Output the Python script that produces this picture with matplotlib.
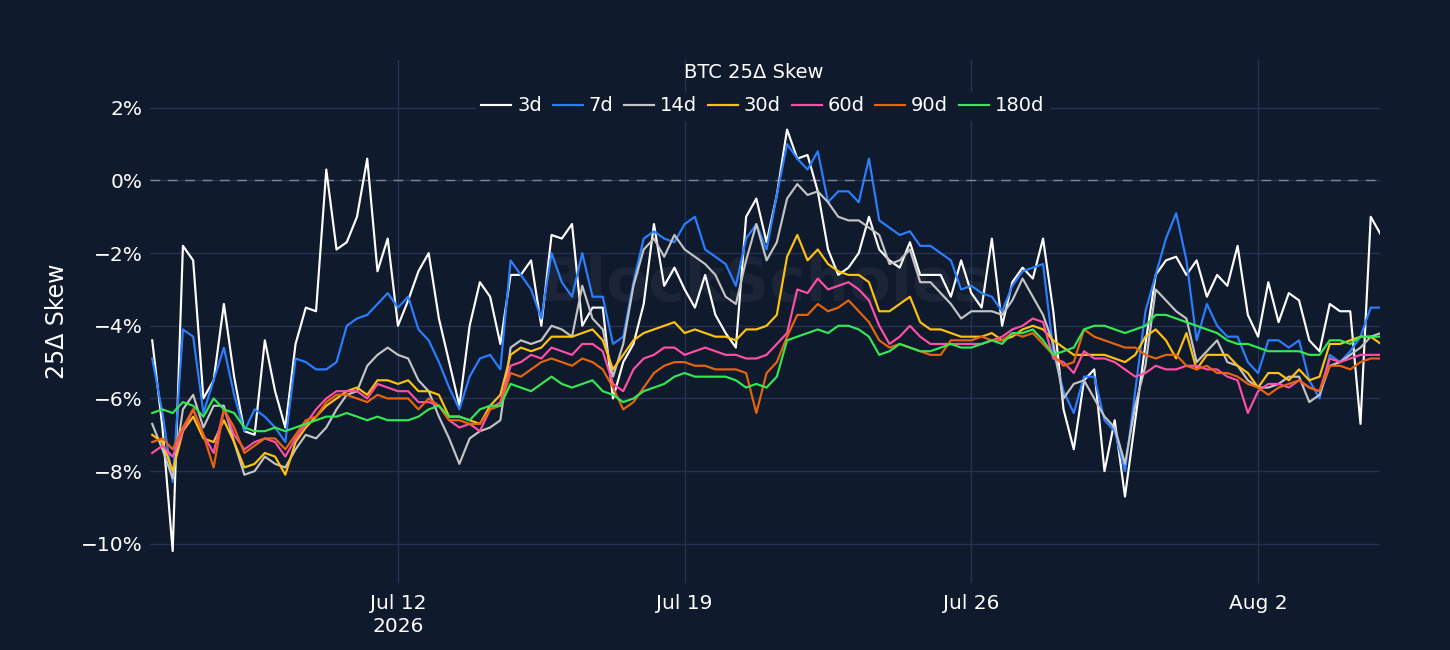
import matplotlib
matplotlib.use('Agg')
import matplotlib.pyplot as plt
import matplotlib.dates as mdates
import pandas as pd

# 6-hourly samples, Jul 6 2026 00:00 -> Aug 5 2026 00:00
timestamps = pd.date_range('2026-07-06 00:00', periods=121, freq='6h')

skew_3d = [-4.4, -6.8, -10.2, -1.8, -2.2, -6.0, -5.5, -3.4, -5.4, -6.9,
           -7.0, -4.4, -5.8, -6.8, -4.5, -3.5, -3.6, 0.3, -1.9, -1.7,
           -1.0, 0.6, -2.5, -1.6, -4.0, -3.3, -2.5, -2.0, -3.8, -5.0,
           -6.2, -4.0, -2.8, -3.2, -4.5, -2.6, -2.6, -2.2, -4.0, -1.5,
           -1.6, -1.2, -4.0, -3.5, -3.5, -6.0, -5.0, -4.5, -3.4, -1.2,
           -2.9, -2.4, -3.0, -3.5, -2.6, -3.7, -4.2, -4.6, -1.0, -0.5,
           -1.7, -0.4, 1.4, 0.6, 0.7, -0.3, -1.9, -2.6, -2.4, -2.0,
           -1.0, -1.9, -2.2, -2.4, -1.7, -2.6, -2.6, -2.6, -3.2, -2.2,
           -3.1, -3.5, -1.6, -4.0, -2.8, -2.4, -2.7, -1.6, -3.6, -6.3,
           -7.4, -5.5, -5.2, -8.0, -6.6, -8.7, -6.6, -4.5, -2.6, -2.2,
           -2.1, -2.6, -2.2, -3.2, -2.6, -2.9, -1.8, -3.7, -4.3, -2.8,
           -3.9, -3.1, -3.3, -4.4, -4.7, -3.4, -3.6, -3.6, -6.7, -1.0, -1.5]

skew_7d = [-4.9, -6.4, -8.3, -4.1, -4.3, -6.4, -5.5, -4.6, -5.9, -6.9,
           -6.3, -6.5, -6.8, -7.2, -4.9, -5.0, -5.2, -5.2, -5.0, -4.0,
           -3.8, -3.7, -3.4, -3.1, -3.5, -3.2, -4.1, -4.4, -5.0, -5.7,
           -6.3, -5.4, -4.9, -4.8, -5.2, -2.2, -2.6, -3.0, -3.8, -2.0,
           -2.8, -3.2, -2.0, -3.2, -3.2, -4.5, -4.3, -2.8, -1.6, -1.4,
           -1.6, -1.7, -1.2, -1.0, -1.9, -2.1, -2.3, -2.9, -1.6, -1.2,
           -1.9, -0.4, 1.0, 0.6, 0.3, 0.8, -0.6, -0.3, -0.3, -0.6,
           0.6, -1.1, -1.3, -1.5, -1.4, -1.8, -1.8, -2.0, -2.2, -3.0,
           -2.9, -3.1, -3.2, -3.6, -2.9, -2.5, -2.4, -2.3, -4.7, -5.8,
           -6.4, -5.4, -5.4, -6.6, -6.9, -8.0, -5.8, -3.6, -2.6, -1.6,
           -0.9, -2.2, -4.4, -3.4, -4.0, -4.3, -4.3, -5.0, -5.3, -4.4,
           -4.4, -4.6, -4.4, -5.5, -6.0, -4.8, -5.0, -4.7, -4.3, -3.5, -3.5]

skew_14d = [-6.7, -7.4, -8.2, -6.3, -5.9, -6.8, -6.2, -6.2, -7.2, -8.1,
            -8.0, -7.6, -7.8, -7.9, -7.4, -7.0, -7.1, -6.8, -6.3, -5.9,
            -5.8, -5.1, -4.8, -4.6, -4.8, -4.9, -5.5, -5.8, -6.5, -7.1,
            -7.8, -7.1, -6.9, -6.8, -6.6, -4.6, -4.4, -4.5, -4.4, -4.0,
            -4.1, -4.3, -2.9, -3.8, -4.1, -5.4, -4.5, -2.9, -1.9, -1.6,
            -2.1, -1.5, -1.9, -2.1, -2.3, -2.6, -3.2, -3.4, -2.2, -1.2,
            -2.2, -1.7, -0.5, -0.1, -0.4, -0.3, -0.6, -1.0, -1.1, -1.1,
            -1.3, -1.5, -2.3, -2.2, -1.9, -2.8, -2.8, -3.1, -3.4, -3.8,
            -3.6, -3.6, -3.6, -3.7, -3.3, -2.7, -3.2, -3.7, -4.5, -6.0,
            -5.6, -5.5, -6.0, -6.5, -6.8, -7.8, -6.2, -5.1, -3.0, -3.3,
            -3.6, -3.8, -5.0, -4.7, -4.4, -5.0, -5.1, -5.5, -5.7, -5.7,
            -5.6, -5.4, -5.4, -6.1, -5.9, -5.1, -5.0, -4.8, -4.6, -4.3, -4.2]

skew_30d = [-7.0, -7.2, -8.0, -6.9, -6.5, -7.1, -7.2, -6.6, -7.2, -7.9,
            -7.8, -7.5, -7.6, -8.1, -7.2, -6.8, -6.5, -6.2, -6.0, -5.8,
            -5.7, -5.9, -5.5, -5.5, -5.6, -5.5, -5.8, -5.8, -5.9, -6.5,
            -6.5, -6.6, -6.7, -6.2, -5.9, -4.8, -4.6, -4.7, -4.6, -4.3,
            -4.3, -4.3, -4.2, -4.1, -4.4, -5.2, -4.8, -4.4, -4.2, -4.1,
            -4.0, -3.9, -4.2, -4.1, -4.2, -4.3, -4.3, -4.4, -4.1, -4.1,
            -4.0, -3.7, -2.1, -1.5, -2.2, -1.9, -2.3, -2.5, -2.6, -2.6,
            -2.8, -3.6, -3.6, -3.4, -3.2, -3.9, -4.1, -4.1, -4.2, -4.3,
            -4.3, -4.3, -4.2, -4.4, -4.3, -4.1, -4.0, -4.1, -4.4, -4.6,
            -4.8, -4.8, -4.8, -4.8, -4.9, -5.0, -4.8, -4.3, -4.1, -4.4,
            -4.9, -4.2, -5.2, -4.8, -4.8, -4.8, -5.1, -5.3, -5.7, -5.3,
            -5.3, -5.5, -5.2, -5.5, -5.4, -4.5, -4.5, -4.4, -4.3, -4.3, -4.5]

skew_60d = [-7.5, -7.3, -7.6, -6.9, -6.3, -7.0, -7.5, -6.3, -7.0, -7.4,
            -7.2, -7.1, -7.2, -7.6, -7.1, -6.7, -6.3, -6.0, -5.8, -5.8,
            -5.8, -6.0, -5.6, -5.7, -5.8, -5.8, -6.1, -6.1, -6.2, -6.6,
            -6.8, -6.7, -6.9, -6.3, -6.1, -5.1, -5.0, -4.8, -4.9, -4.6,
            -4.7, -4.8, -4.5, -4.5, -4.7, -5.6, -5.8, -5.2, -4.9, -4.8,
            -4.6, -4.6, -4.8, -4.7, -4.6, -4.7, -4.8, -4.8, -4.9, -4.9,
            -4.8, -4.5, -4.2, -3.0, -3.1, -2.7, -3.0, -2.9, -2.8, -3.0,
            -3.3, -4.0, -4.5, -4.3, -4.0, -4.3, -4.5, -4.5, -4.5, -4.5,
            -4.5, -4.5, -4.4, -4.3, -4.1, -4.0, -3.8, -3.9, -4.9, -5.0,
            -5.3, -4.7, -4.9, -4.9, -5.0, -5.2, -5.4, -5.3, -5.1, -5.2,
            -5.2, -5.1, -5.1, -5.2, -5.2, -5.4, -5.5, -6.4, -5.8, -5.6,
            -5.6, -5.7, -5.5, -5.7, -5.8, -4.9, -5.0, -4.9, -4.8, -4.8, -4.8]

skew_90d = [-7.2, -7.1, -7.4, -6.8, -6.3, -7.0, -7.9, -6.3, -6.8, -7.5,
            -7.3, -7.1, -7.1, -7.4, -7.0, -6.6, -6.5, -6.1, -5.9, -5.9,
            -6.0, -6.1, -5.9, -6.0, -6.0, -6.0, -6.3, -6.0, -6.2, -6.6,
            -6.6, -6.7, -6.7, -6.3, -6.2, -5.3, -5.4, -5.2, -5.0, -4.9,
            -5.0, -5.1, -4.9, -5.0, -5.2, -5.7, -6.3, -6.1, -5.7, -5.3,
            -5.1, -5.0, -5.0, -5.1, -5.1, -5.2, -5.2, -5.2, -5.3, -6.4,
            -5.3, -5.0, -4.3, -3.7, -3.7, -3.4, -3.6, -3.5, -3.3, -3.6,
            -3.9, -4.4, -4.6, -4.5, -4.6, -4.7, -4.8, -4.8, -4.4, -4.4,
            -4.4, -4.3, -4.4, -4.4, -4.2, -4.3, -4.2, -4.5, -4.8, -5.1,
            -5.0, -4.1, -4.3, -4.4, -4.5, -4.6, -4.6, -4.8, -4.9, -4.8,
            -4.8, -5.1, -5.2, -5.1, -5.3, -5.3, -5.4, -5.6, -5.7, -5.9,
            -5.7, -5.6, -5.5, -5.7, -5.8, -5.1, -5.1, -5.2, -5.0, -4.9, -4.9]

skew_180d = [-6.4, -6.3, -6.4, -6.1, -6.2, -6.5, -6.0, -6.3, -6.4, -6.8,
             -6.9, -6.9, -6.8, -6.9, -6.8, -6.7, -6.6, -6.5, -6.5, -6.4,
             -6.5, -6.6, -6.5, -6.6, -6.6, -6.6, -6.5, -6.3, -6.2, -6.5,
             -6.5, -6.6, -6.3, -6.2, -6.2, -5.6, -5.7, -5.8, -5.6, -5.4,
             -5.6, -5.7, -5.6, -5.5, -5.8, -5.9, -6.1, -6.0, -5.8, -5.7,
             -5.6, -5.4, -5.3, -5.4, -5.4, -5.4, -5.4, -5.5, -5.7, -5.6,
             -5.7, -5.4, -4.4, -4.3, -4.2, -4.1, -4.2, -4.0, -4.0, -4.1,
             -4.3, -4.8, -4.7, -4.5, -4.6, -4.7, -4.7, -4.6, -4.5, -4.6,
             -4.6, -4.5, -4.4, -4.5, -4.2, -4.2, -4.1, -4.4, -4.8, -4.7,
             -4.6, -4.1, -4.0, -4.0, -4.1, -4.2, -4.1, -4.0, -3.7, -3.7,
             -3.8, -3.9, -4.0, -4.1, -4.2, -4.4, -4.5, -4.5, -4.6, -4.7,
             -4.7, -4.7, -4.7, -4.8, -4.8, -4.4, -4.4, -4.5, -4.3, -4.3, -4.3]

tenors = ['3d', '7d', '14d', '30d', '60d', '90d', '180d']
series = [skew_3d, skew_7d, skew_14d, skew_30d, skew_60d, skew_90d, skew_180d]
colors = ['#ffffff', '#2a7fff', '#c4c4c4', '#ffc20e', '#ff4fa8', '#e8650c', '#34e854']

y_ticks = [2, 0, -2, -4, -6, -8, -10]
x_ticks = ['2026-07-12', '2026-07-19', '2026-07-26', '2026-08-02']
x_tick_labels = ['Jul 12\n2026', 'Jul 19', 'Jul 26', 'Aug 2']

bg = '#101a2d'
grid_col = '#243352'
plt.rcParams['font.family'] = ['DejaVu Sans']

fig = plt.figure(figsize=(14.5, 6.5), dpi=100, facecolor=bg)
ax = fig.add_axes([0.1034, 0.103, 0.8483, 0.805], facecolor=bg)

# faint watermark
ax.text(0.5, 0.57, 'BlockScholes', transform=ax.transAxes, ha='center', va='center',
        fontsize=44, color='#ffffff', alpha=0.05, fontweight='bold', zorder=1)

for vals, lab, col in zip(series, tenors, colors):
    ax.plot(timestamps, vals, color=col, lw=1.55, label=lab, zorder=3)

ax.axhline(0, color='#7d8597', lw=1, dashes=(7, 5.5), zorder=2)

ax.set_xlim(pd.Timestamp('2026-07-05 22:40'), pd.Timestamp('2026-08-04 23:25'))
ax.set_ylim(-11.08, 3.32)

ax.set_yticks(y_ticks)
ax.set_yticklabels([f'{v}%'.replace('-', '\u2212') for v in y_ticks])
ax.set_xticks([mdates.date2num(pd.Timestamp(d)) for d in x_ticks])
ax.set_xticklabels(x_tick_labels, linespacing=1.25)

ax.grid(True, color=grid_col, lw=1, zorder=0)
ax.set_axisbelow(True)
for s in ax.spines.values():
    s.set_visible(False)
ax.tick_params(length=0, colors='white', labelsize=14.5)
ax.tick_params(axis='y', pad=5)
ax.tick_params(axis='x', pad=8)

fig.text(57 / 1450, 1 - 321 / 650, '25Δ Skew', rotation=90, ha='center', va='center',
         color='white', fontsize=17)

# legend row + title above it
leg = fig.legend(loc='center', bbox_to_anchor=(0.526, 0.837), ncol=7, frameon=True,
                 facecolor=bg, edgecolor=bg, framealpha=1, fontsize=14,
                 handlelength=1.55, handletextpad=0.3, columnspacing=0.55,
                 borderpad=0.25, labelcolor='white')
fig.text(0.52, 0.889, 'BTC 25Δ Skew', ha='center', va='center', color='white', fontsize=14)

plt.savefig('out.png', dpi=100, facecolor=bg)
